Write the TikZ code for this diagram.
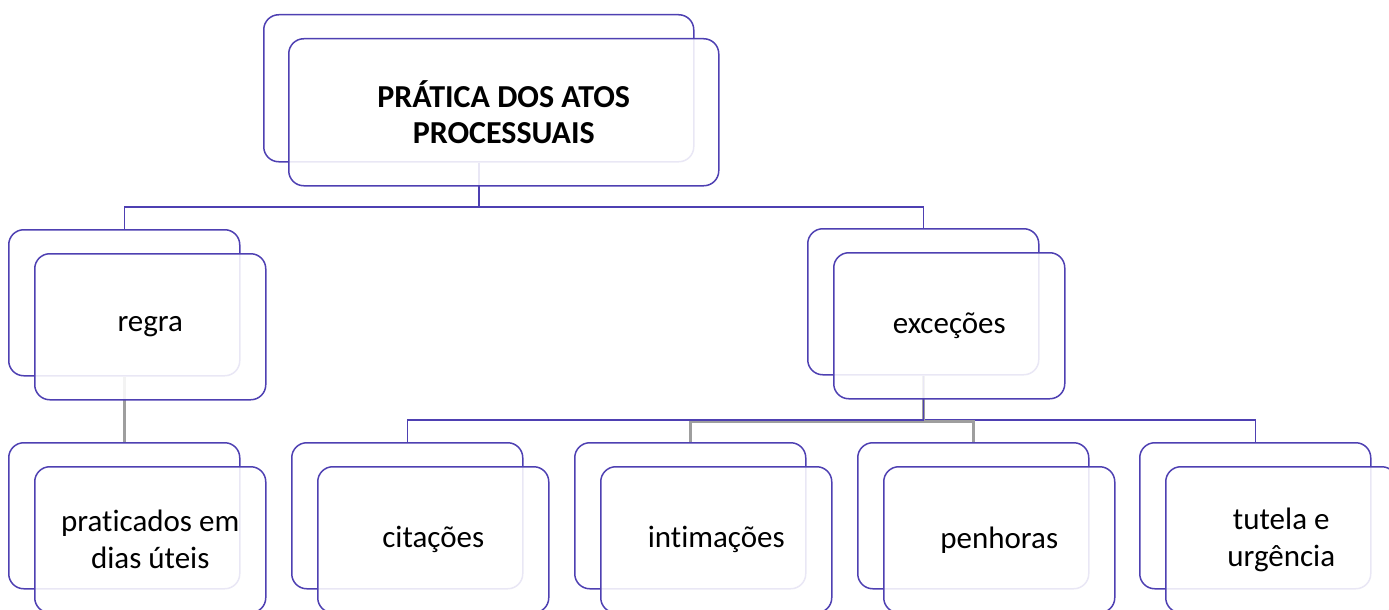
\documentclass[tikz,border=0pt]{standalone}
\usepackage{fontspec}
\setmainfont{Carlito}[Ligatures=NoCommon]
\definecolor{boxblue}{RGB}{78,64,178}
\definecolor{conngray}{RGB}{158,158,158}
\tikzset{
  backbox/.style={draw=boxblue, line width=1.5pt, rounded corners=15pt, fill=white,
    anchor=north west, minimum width=231pt, minimum height=146pt, inner sep=0pt},
  frontbox/.style={backbox, fill opacity=0.88, text opacity=1, align=center,
    font=\fontsize{31}{37}\selectfont},
  bluelink/.style={draw=boxblue, line width=1.5pt},
  graylink/.style={draw=conngray, line width=3pt},
}
\begin{document}
\begin{tikzpicture}[x=1pt,y=-1pt]
\path[use as bounding box] (0,0) rectangle (1389,610);
% back boxes
\node[backbox, minimum width=430pt, minimum height=147pt] (bTop) at (263,14) {};
\node[backbox] (bRegra) at (8,229) {};
\node[backbox] (bExc) at (807,228) {};
\node[backbox] (bPrat) at (8,442) {};
\node[backbox] (bCit) at (291,442) {};
\node[backbox] (bInt) at (574,442) {};
\node[backbox] (bPen) at (857,442) {};
\node[backbox] (bTut) at (1139,442) {};
% bus levels
\coordinate (bus1) at (0,207);
\coordinate (bus2) at (0,420);
\coordinate (bus2g) at (0,421);
% connectors
\draw[bluelink] (bTop.south) -- (bTop.south |- bus1) -| (bRegra.north);
\draw[bluelink] (bTop.south |- bus1) -| (bExc.north);
\draw[graylink] (bRegra.south) -- (bPrat.north);
\draw[bluelink] (bExc.south) -- (bExc.south |- bus2) -| (bTut.north);
\draw[graylink] (bExc.south |- bus2g) -| (bPen.north);
\draw[graylink] (bExc.south) -- (bExc.south |- bus2g) -| (bInt.north);
\draw[bluelink] (bExc.south) -- (bExc.south |- bus2) -| (bCit.north);
% front boxes
\node[frontbox, minimum width=430pt, minimum height=147pt, font=\fontsize{32}{36}\selectfont\bfseries] (fTop) at (288,38) {PRÁTICA DOS ATOS\\PROCESSUAIS};
\node[frontbox] (fRegra) at (34,253) {regra};
\node[frontbox] (fExc) at (833,252) {exceções};
\node[frontbox] (fPrat) at (34,466) {praticados em\\dias úteis};
\node[frontbox] (fCit) at (317,466) {citações};
\node[frontbox] (fInt) at (600,466) {intimações};
\node[frontbox] (fPen) at (883,466) {penhoras};
\node[frontbox] (fTut) at (1165,466) {tutela e\\urgência};
\end{tikzpicture}
\end{document}
